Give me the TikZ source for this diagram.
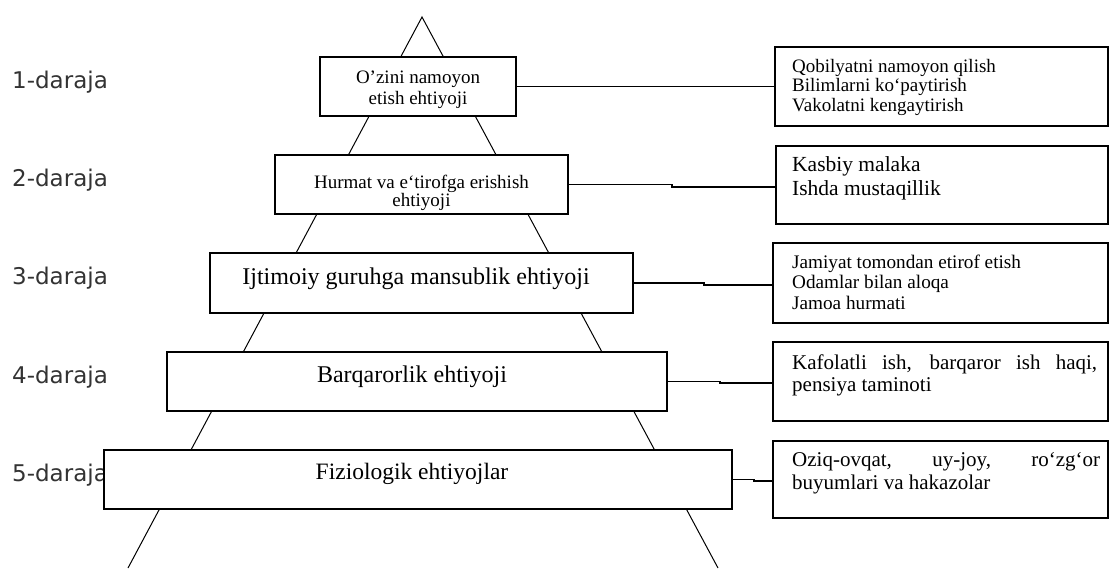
\documentclass[tikz,border=0pt]{standalone}
\usepackage{fontspec}
\setmainfont{Liberation Serif}
\newfontfamily\lblfont{DejaVu Sans}
\newcommand\setfs[2]{\fontsize{#1}{#2}\selectfont}
\begin{document}
\begin{tikzpicture}[x=1pt,y=1pt,
  box/.style={draw=black, line width=1.3pt, fill=white, rectangle, inner sep=0pt},
  txt/.style={inner sep=0pt, anchor=base},
  rtxt/.style={inner sep=0pt, anchor=base west},
  lvl/.style={inner sep=0pt, anchor=base west, font=\lblfont\setfs{23}{27}, text=black!80},
  pyr/.style={line width=1pt},
  link/.style={line width=1.1pt}]
\useasboundingbox (0,0) rectangle (1109,-568);
\fill[white] (0,0) rectangle (1109,-568);

% level labels
\node[lvl] (l1) at (12,-88) {1-daraja};
\node[lvl] (l2) at (12,-186) {2-daraja};
\node[lvl] (l3) at (12,-284) {3-daraja};
\node[lvl] (l4) at (12,-383) {4-daraja};
\node[lvl] (l5) at (12,-481) {5-daraja};

% pyramid sides
\coordinate (apex) at (422,-17);
\coordinate (bl) at (128,-568);
\coordinate (br) at (718,-568);
\draw[pyr] (bl) -- (apex) -- (br);

% pyramid boxes
\node[box, minimum width=196, minimum height=59] (b1) at (418,-86.5) {};
\node[box, minimum width=293, minimum height=59] (b2) at (421.5,-184.5) {};
\node[box, minimum width=423, minimum height=60] (b3) at (421.5,-283) {};
\node[box, minimum width=500, minimum height=59] (b4) at (417,-381.5) {};
\node[box, minimum width=628, minimum height=59] (b5) at (418,-479.5) {};

\node[txt, font=\setfs{19}{21}] (t1) at (418,-83) {\begin{tabular}[t]{@{}c@{}}O’zini namoyon\\etish ehtiyoji\end{tabular}};
\node[txt, font=\setfs{19}{18}] (t2) at (421.5,-188) {\begin{tabular}[t]{@{}c@{}}Hurmat va e‘tirofga erishish\\ehtiyoji\end{tabular}};
\node[txt, font=\setfs{24}{28}] (t3) at (416,-284) {Ijtimoiy guruhga mansublik ehtiyoji};
\node[txt, font=\setfs{24}{28}] (t4) at (412,-382) {Barqarorlik ehtiyoji};
\node[txt, font=\setfs{23.5}{28}] (t5) at (412,-479) {Fiziologik ehtiyojlar};

% right boxes
\node[box, minimum width=333, minimum height=79] (r1) at (941.5,-86.5) {};
\node[box, minimum width=332, minimum height=78] (r2) at (942,-185) {};
\node[box, minimum width=335, minimum height=80] (r3) at (940.5,-283) {};
\node[box, minimum width=335, minimum height=79] (r4) at (940.5,-381.5) {};
\node[box, minimum width=335, minimum height=77] (r5) at (940.5,-479.5) {};

\node[rtxt, font=\setfs{19}{19.5}] (u1) at (792,-72) {\begin{tabular}[t]{@{}l@{}}Qobilyatni namoyon qilish\\Bilimlarni ko‘paytirish\\Vakolatni kengaytirish\end{tabular}};
\node[rtxt, font=\setfs{21.5}{24}] (u2) at (792,-171.5) {\begin{tabular}[t]{@{}l@{}}Kasbiy malaka\\Ishda mustaqillik\end{tabular}};
\node[rtxt, font=\setfs{19.2}{20.5}] (u3) at (792,-268) {\begin{tabular}[t]{@{}l@{}}Jamiyat tomondan etirof etish\\Odamlar bilan aloqa\\Jamoa hurmati\end{tabular}};
\node[rtxt, font=\setfs{21}{22}] (u4) at (792,-369.5) {\begin{tabular}[t]{@{}l@{}}\makebox[305pt][s]{Kafolatli ish, barqaror ish haqi,}\\pensiya taminoti\end{tabular}};
\node[rtxt, font=\setfs{21}{23}] (u5) at (792,-466.5) {\begin{tabular}[t]{@{}l@{}}\makebox[308pt][s]{Oziq-ovqat, uy-joy, ro‘zg‘or}\\buyumlari va hakazolar\end{tabular}};

% connectors
\coordinate (s2) at (672,-184.5);
\coordinate (s3) at (704,-283);
\coordinate (s4) at (720,-381.5);
\coordinate (s5) at (754,-479.5);
\draw[link] (b1.east) -- (r1.west);
\draw[link] (b2.east) -- (s2) |- ([yshift=-2pt]r2.west);
\draw[link] (b3.east) -- (s3) |- ([yshift=-2pt]r3.west);
\draw[link] (b4.east) -- (s4) |- ([yshift=-1.5pt]r4.west);
\draw[link] (b5.east) -- (s5) |- ([yshift=-1.5pt]r5.west);
\end{tikzpicture}
\end{document}
